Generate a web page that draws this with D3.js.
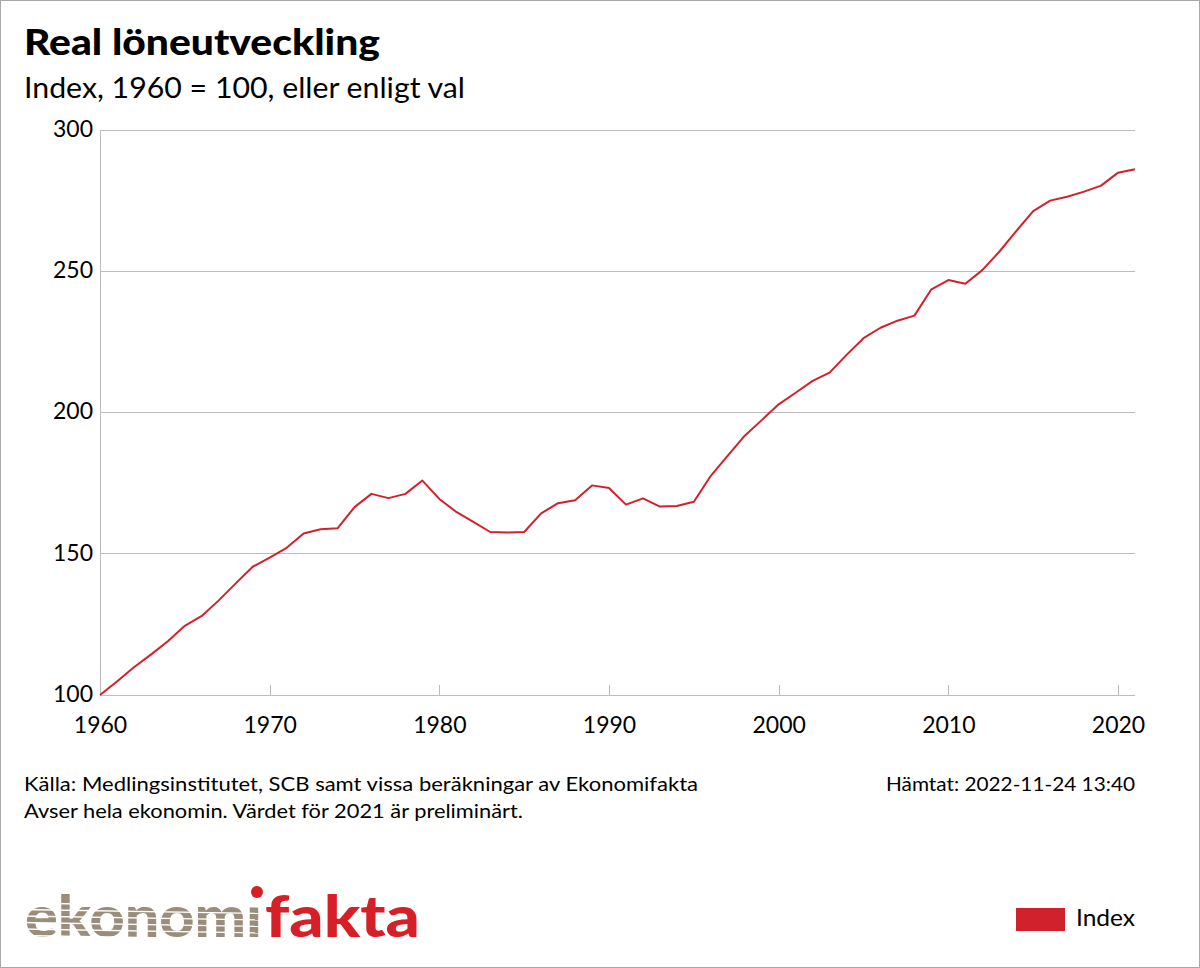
<!DOCTYPE html>
<html><head><meta charset="utf-8">
<script src="https://cdn.jsdelivr.net/npm/d3@7"></script>
<style>
html,body{margin:0;padding:0;background:#fff;}
svg{display:block;font-family:Lato,"Noto Sans",sans-serif;}
</style></head><body>
<svg id="c" width="1200" height="968"></svg>
<script>
const years = d3.range(1960, 2022);
const values = [100, 104.8, 109.8, 114.3, 119.0, 124.5, 128.0, 133.5, 139.5, 145.4,
  148.6, 152.1, 157.2, 158.7, 159.0, 166.5, 171.2, 169.7, 171.2, 175.9,
  169.4, 164.8, 161.3, 157.7, 157.5, 157.7, 164.3, 167.9, 168.9, 174.2,
  173.3, 167.4, 169.6, 166.7, 166.9, 168.4, 177.6, 184.7, 191.8, 197.3,
  202.9, 207.0, 211.2, 214.1, 220.4, 226.3, 230.0, 232.5, 234.3, 243.6,
  246.9, 245.6, 250.4, 256.9, 264.2, 271.3, 275.0, 276.4, 278.2, 280.3,
  284.9, 286.1];
const yTicks = [100, 150, 200, 250, 300];
const xTicks = [1960, 1970, 1980, 1990, 2000, 2010, 2020];
const title = "Real löneutveckling";
const subtitle = "Index, 1960 = 100, eller enligt val";
const source = "Källa: Medlingsinstitutet, SCB samt vissa beräkningar av Ekonomifakta";
const note = "Avser hela ekonomin. Värdet för 2021 är preliminärt.";
const fetched = "Hämtat: 2022-11-24 13:40";
const seriesName = "Index";

const svg = d3.select("#c");
const red = "#d0212d";
svg.append("rect").attr("x",0.5).attr("y",0.5).attr("width",1199).attr("height",967)
  .attr("fill","#fff").attr("stroke","#a9a9a9");

const x = d3.scaleLinear().domain([1960, 2021]).range([100, 1135]);
const y = d3.scaleLinear().domain([100, 300]).range([695, 130]);

svg.append("text").attr("x",24).attr("y",55).attr("font-size",36).attr("font-weight",900)
  .attr("fill","#000").attr("textLength",356).attr("lengthAdjust","spacingAndGlyphs").text(title);
svg.append("text").attr("x",24).attr("y",98).attr("font-size",28).attr("fill","#000")
  .attr("textLength",441).attr("lengthAdjust","spacingAndGlyphs").text(subtitle);

// gridlines
svg.append("g").selectAll("line").data(yTicks).join("line")
  .attr("x1",100).attr("x2",1135).attr("y1",d=>y(d)).attr("y2",d=>y(d))
  .attr("stroke","#bdbdbd").attr("stroke-width",1).attr("shape-rendering","crispEdges");
svg.append("line").attr("x1",100).attr("x2",100).attr("y1",130).attr("y2",695)
  .attr("stroke","#bdbdbd").attr("shape-rendering","crispEdges");

const yAxis = d3.axisLeft(y).tickValues(yTicks).tickSize(0).tickPadding(7);
const gy = svg.append("g").attr("transform","translate(100,0)").call(yAxis);
gy.select(".domain").remove();
gy.selectAll("text").attr("font-size",23).attr("fill","#000").attr("font-family","Lato,'Noto Sans',sans-serif").attr("dy","0.28em");

const xAxis = d3.axisTop(x).tickValues(xTicks).tickSize(10).tickFormat(d3.format("d"));
const gx = svg.append("g").attr("transform","translate(0,695)").call(xAxis);
gx.select(".domain").remove();
gx.selectAll("line").attr("stroke","#bdbdbd").attr("shape-rendering","crispEdges");
gx.selectAll("text").attr("font-size",23).attr("fill","#000").attr("font-family","Lato,'Noto Sans',sans-serif")
  .attr("y",38).attr("dy",0);

const line = d3.line().x((d,i)=>x(years[i])).y(d=>y(d));
svg.append("path").datum(values).attr("d",line).attr("fill","none")
  .attr("stroke",red).attr("stroke-width",2).attr("stroke-linejoin","round");

svg.append("text").attr("x",24).attr("y",791).attr("font-size",19).attr("fill","#000")
  .attr("textLength",674).attr("lengthAdjust","spacingAndGlyphs").text(source);
svg.append("text").attr("x",24).attr("y",818).attr("font-size",19).attr("fill","#000")
  .attr("textLength",499).attr("lengthAdjust","spacingAndGlyphs").text(note);
svg.append("text").attr("x",886).attr("y",791).attr("font-size",19).attr("fill","#000")
  .attr("textLength",249).attr("lengthAdjust","spacingAndGlyphs").text(fetched);

// logo
const logo = svg.append("g").attr("font-family","Lato,'Open Sans',sans-serif").attr("font-weight",900);
logo.append("text").attr("x",25).attr("y",937).attr("font-size",58).attr("fill","#9a8d7c")
  .attr("textLength",237).attr("lengthAdjust","spacingAndGlyphs").text("ekonomı");
logo.append("text").attr("x",265).attr("y",937).attr("font-size",58).attr("fill","#d71f27")
  .attr("textLength",155).attr("lengthAdjust","spacingAndGlyphs").text("fakta");
logo.append("circle").attr("cx",257).attr("cy",892).attr("r",6).attr("fill","#d71f27");
const stripes = d3.range(0,6);
logo.selectAll("line.s").data(stripes).join("line").attr("class","s")
  .attr("x1",20).attr("x2",265).attr("y1",d=>903+d*6.5).attr("y2",d=>907+d*6.5)
  .attr("stroke","#fff").attr("stroke-width",1.3);

// legend
svg.append("rect").attr("x",1016).attr("y",908).attr("width",49).attr("height",23).attr("fill",red);
svg.append("text").attr("x",1076).attr("y",926).attr("font-size",23).attr("fill","#000")
  .attr("textLength",59).attr("lengthAdjust","spacingAndGlyphs").text(seriesName);
</script>
</body></html>
